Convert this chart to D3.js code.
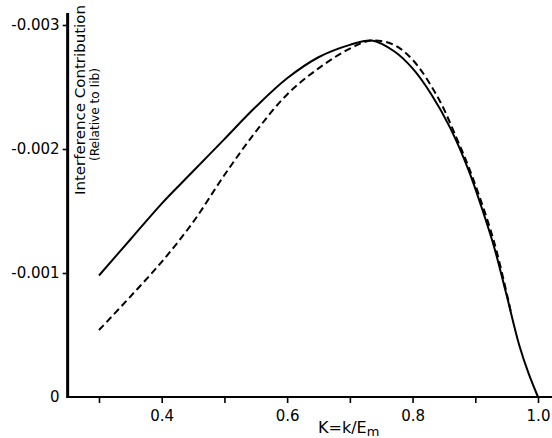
<!DOCTYPE html>
<html>
<head>
<meta charset="utf-8">
<script src="https://cdn.jsdelivr.net/npm/d3@7"></script>
<style>
  html, body { margin: 0; padding: 0; background: #fff; }
  svg { display: block; font-family: "DejaVu Sans", sans-serif; }
</style>
</head>
<body>
<svg width="552" height="438"></svg>
<script>
// values
const solidK = [0.3, 0.35, 0.4, 0.45, 0.5, 0.55, 0.6, 0.65, 0.7, 0.735, 0.77, 0.8, 0.83, 0.86, 0.89, 0.91, 0.93, 0.95, 0.97, 0.985, 1.0];
const solidVal = [-0.00098, -0.00127, -0.00156, -0.00182, -0.00208, -0.00234, -0.00257, -0.00274, -0.00284, -0.002875, -0.00279, -0.00265, -0.00244, -0.00217, -0.00182, -0.00153, -0.00121, -0.00082, -0.00042, -0.00019, 0];

const dashK = [0.3, 0.35, 0.4, 0.45, 0.5, 0.55, 0.6, 0.65, 0.7, 0.735, 0.77, 0.8, 0.84, 0.87, 0.895, 0.93, 0.957];
const dashVal = [-0.00054, -0.00081, -0.00109, -0.00141, -0.00179, -0.00214, -0.00244, -0.00265, -0.00281, -0.002875, -0.00284, -0.00272, -0.00242, -0.00209, -0.00178, -0.00125, -0.00068];

const xTicks = [0.3, 0.4, 0.5, 0.6, 0.7, 0.8, 0.9, 1.0];
const xLabelled = ["0.4", "0.6", "0.8", "1.0"];
const yTicks = [-0.003, -0.002, -0.001, 0];

const svg = d3.select("svg");

const x = d3.scaleLinear().domain([0.3, 1.0]).range([99, 538]);
const y = d3.scaleLinear().domain([0, -0.003]).range([397, 25]);

const line = d3.line()
    .x(d => x(d[0]))
    .y(d => y(d[1]))
    .curve(d3.curveCatmullRom.alpha(0.5));

// axes
const xAxis = svg.append("g")
    .attr("transform", `translate(0,${y(0)})`)
    .call(d3.axisBottom(x).tickValues(xTicks).tickSize(6).tickPadding(7)
        .tickFormat(d => xLabelled.includes(d.toFixed(1)) ? d.toFixed(1) : ""));
xAxis.select(".domain").remove();
xAxis.append("line")
    .attr("x1", x(0.25)).attr("x2", 552)
    .attr("stroke", "#000").attr("stroke-width", 2.2);
xAxis.selectAll(".tick line").attr("stroke-width", 1.6);
xAxis.selectAll("text").attr("font-size", 15).attr("fill", "#000")
    .attr("font-family", "DejaVu Sans");

const yAxis = svg.append("g")
    .attr("transform", `translate(${x(0.25)},0)`)
    .call(d3.axisLeft(y).tickValues(yTicks).tickSize(5).tickPadding(3)
        .tickFormat(d => d === 0 ? "0" : d.toFixed(3)));
yAxis.select(".domain").remove();
yAxis.append("line")
    .attr("y1", 13).attr("y2", y(0) + 1)
    .attr("stroke", "#000").attr("stroke-width", 3);
yAxis.selectAll(".tick line").attr("stroke-width", 1.6);
yAxis.selectAll(".tick").filter(d => d === 0).select("line").remove();
yAxis.selectAll("text").attr("font-size", 15).attr("fill", "#000")
    .attr("font-family", "DejaVu Sans");

// curves
svg.append("path")
    .datum(d3.zip(solidK, solidVal))
    .attr("d", line)
    .attr("fill", "none")
    .attr("stroke", "#000")
    .attr("stroke-width", 2);

svg.append("path")
    .datum(d3.zip(dashK, dashVal))
    .attr("d", line)
    .attr("fill", "none")
    .attr("stroke", "#000")
    .attr("stroke-width", 2)
    .attr("stroke-dasharray", "7,4");

// axis titles
const xt = svg.append("text")
    .attr("x", 318).attr("y", 433)
    .attr("font-size", 16)
    .text("K=k/E");
xt.append("tspan").attr("font-size", 13).attr("dy", 3).text("m");

svg.append("text")
    .attr("transform", "translate(85,195) rotate(-90)")
    .attr("font-size", 14)
    .attr("textLength", 190)
    .attr("lengthAdjust", "spacingAndGlyphs")
    .text("Interference Contribution");

const yt2 = svg.append("text")
    .attr("transform", "translate(99,161) rotate(-90)")
    .attr("font-size", 12)
    .attr("textLength", 93)
    .attr("lengthAdjust", "spacingAndGlyphs")
    .text("(Relative to I");
yt2.append("tspan").text("ib");
yt2.append("tspan").text(")");
</script>
</body>
</html>
